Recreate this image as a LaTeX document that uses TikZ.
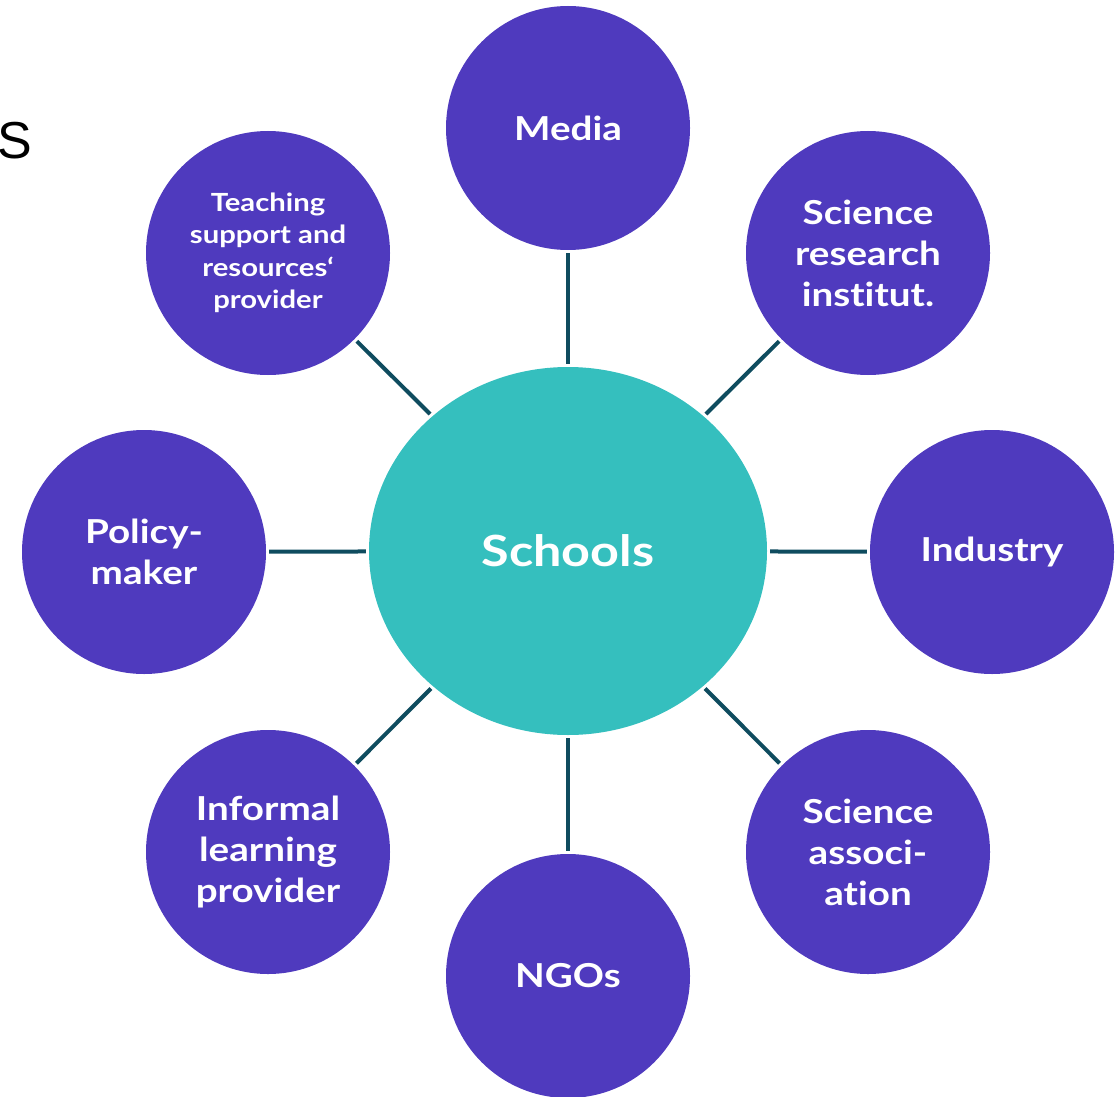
\documentclass[tikz,border=0pt]{standalone}
\usepackage{fontspec}
\setmainfont{Lato}[FakeStretch=1.17, Ligatures=NoCommon]
\newfontfamily\arialfont{Liberation Sans}
\definecolor{partyblue}{HTML}{4F3ABE}
\definecolor{hubteal}{HTML}{35BFBE}
\definecolor{linkcol}{HTML}{0F4C5F}
\tikzset{
  party/.style={circle, fill=partyblue, draw=none, minimum size=244pt, inner sep=0pt,
    text=white, align=center, font=\bfseries\fontsize{33}{41}\selectfont},
  hub/.style={ellipse, fill=hubteal, draw=none, minimum width=398pt, minimum height=368pt,
    inner sep=0pt, text=white, font=\bfseries\fontsize{43}{50}\selectfont},
  link/.style={draw=linkcol, line width=4pt, shorten <=3pt, shorten >=3pt}
}
\usetikzlibrary{shapes.geometric}
\begin{document}
\begin{tikzpicture}[x=1pt, y=-1pt]
\useasboundingbox (0,0) rectangle (1119,1097);
\node[hub] (sch) at (568,551) {Schools};
\node[party] (media) at (568,128) {Media};
\node[party] (sri) at (868,253) {Science\\research\\institut.};
\node[party] (ind) at (992,552) {Industry};
\node[party] (sa) at (868,852) {Science\\associ-\\ation};
\node[party] (ngo) at (568,976) {NGOs};
\node[party] (ilp) at (268,852) {Informal\\learning\\provider};
\node[party] (pol) at (144,552) {Policy-\\maker};
\node[party, font=\bfseries\fontsize{25}{32.5}\selectfont] (tsr) at (268,253)
  {Teaching\\support and\\resources‘\\provider};
\node[anchor=base west, inner sep=0pt, font=\arialfont\fontsize{52}{52}\selectfont] (cut) at (-3,158) {S};
\foreach \p in {media, sri, ind, sa, ngo, ilp, pol, tsr}
  \draw[link] (sch) -- (\p);
\end{tikzpicture}
\end{document}
